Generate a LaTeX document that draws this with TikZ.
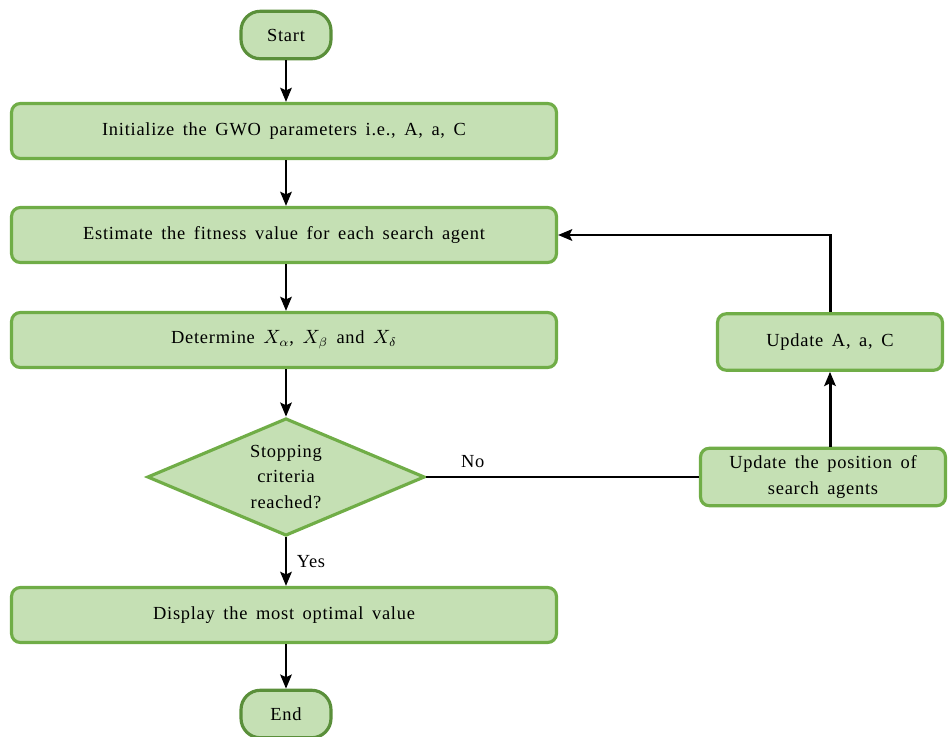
\documentclass[tikz,border=0pt]{standalone}
\usepackage{fontspec}
\setmainfont[LetterSpace=4,WordSpace=1.6]{Liberation Serif}
\usepackage{tikz}
\usetikzlibrary{arrows.meta,shapes.geometric,positioning}

\definecolor{boxfill}{HTML}{C5E0B4}
\definecolor{boxline}{HTML}{70AD47}
\definecolor{termline}{HTML}{5A8F3A}

\tikzset{
  box/.style={draw=boxline, fill=boxfill, line width=1.8pt, rounded corners=5pt,
    align=center, inner sep=2pt, font=\fontsize{10.5}{14.5}\selectfont},
  wide/.style={box, minimum width=10.9cm, minimum height=1.1cm},
  term/.style={box, draw=termline, rounded corners=11pt, minimum width=1.8cm, minimum height=0.95cm},
  decision/.style={diamond, aspect=2, draw=boxline, fill=boxfill, line width=1.8pt, inner sep=0pt,
    align=center, minimum width=5.55cm, minimum height=2.35cm, font=\fontsize{10.5}{14.5}\selectfont},
  arr/.style={-{Stealth[length=8pt,width=6.5pt,inset=1.5pt]}, line width=1.7pt},
  lbl/.style={font=\fontsize{10.5}{12}\selectfont}
}

\begin{document}
\begin{tikzpicture}[x=0.02cm,y=-0.02cm]

\useasboundingbox (0,0) rectangle (950,737);

% main column
\node[term] (start) at (286,35) {Start};
\node[wide] (init) at (284,131) {Initialize the GWO parameters i.e., A, a, C};
\node[wide] (estimate) at (284,235) {Estimate the fitness value for each search agent};
\node[wide] (determine) at (284,340) {Determine $X_\alpha$, $X_\beta$ and $X_\delta$};
\node[decision] (stop) at (286,477) {Stopping\\criteria\\reached?};
\node[wide] (display) at (284,615) {Display the most optimal value};
\node[term] (end) at (286,714) {End};

% update loop
\node[box, minimum width=4.5cm, minimum height=1.13cm] (updparam) at (830,342) {Update A, a, C};
\node[box, minimum width=4.9cm, minimum height=1.15cm] (updpos) at (823,477) {Update the position of\\search agents};

\draw[arr] (start) -- (start |- init.north);
\draw[arr] (init.south -| start) -- (start |- estimate.north);
\draw[arr] (estimate.south -| start) -- (start |- determine.north);
\draw[arr] (determine.south -| stop.north) -- (stop);
\draw[arr] (stop) -- (display.north -| stop.south) node[lbl, midway, right=2pt] {Yes};
\draw[arr] (display.south -| end.north) -- (end);

\draw[line width=1.7pt] (stop.east) -- (stop.east -| updpos.west) node[lbl, pos=0.17, above=1pt] {No};
\draw[arr] (updpos.north -| updparam.south) -- (updparam.south);
\draw[arr] (updparam.north) |- (estimate.east);

\end{tikzpicture}
\end{document}
